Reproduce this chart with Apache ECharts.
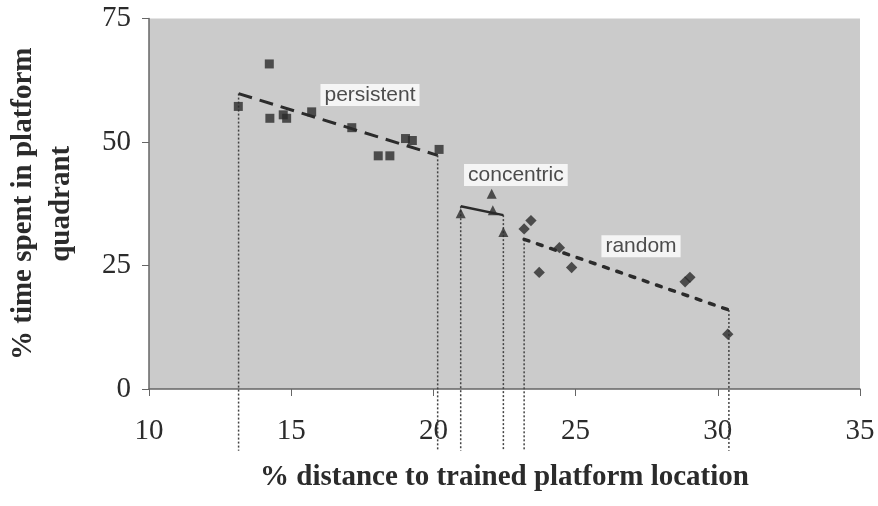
<!DOCTYPE html>
<html>
<head>
<meta charset="utf-8">
<script src="https://cdn.jsdelivr.net/npm/echarts@6/dist/echarts.min.js"></script>
<style>
  html, body { margin: 0; padding: 0; background: #fff; }
  #chart { width: 878px; height: 506px; }
</style>
</head>
<body>
<div id="chart"></div>
<script>
// data
const persistentX = [13.14, 14.23, 14.25, 14.72, 14.84, 15.72, 17.13, 18.06, 18.47, 19.02, 19.26, 20.2];
const persistentY = [57.2, 65.8, 54.8, 55.5, 54.8, 56.1, 52.9, 47.2, 47.2, 50.7, 50.3, 48.5];
const concentricX = [20.96, 22.05, 22.09, 22.46];
const concentricY = [35.6, 39.5, 36.2, 31.8];
const randomX = [23.19, 23.43, 23.72, 24.43, 24.86, 28.85, 29.02, 30.35];
const randomY = [32.4, 34.1, 23.6, 28.6, 24.6, 21.7, 22.6, 11.1];

// fitted lines (start, end)
const persistentFit = [[13.15, 59.8], [20.15, 47.3]];
const concentricFit = [[20.96, 37.0], [22.46, 35.2]];
const randomFit = [[23.19, 30.3], [30.39, 16.0]];

// bottom of the dotted drop lines (below the axis)
const dropBottom = -12.5;

const xTicks = [10, 15, 20, 25, 30, 35];
const yTicks = [0, 25, 50, 75];

const groupLabels = [
  { name: "persistent", value: [17.77, 59.5] },
  { name: "concentric", value: [22.9, 43.3] },
  { name: "random", value: [27.3, 28.9] },
];

const ink = "#2b2b2b";
const zip = (xs, ys) => xs.map((x, i) => [x, ys[i]]);

// dotted drop lines from every fit end down past the axis
const dropLines = [persistentFit, concentricFit, randomFit]
  .flatMap((fit) => fit)
  .map((p) => ({
    type: "line",
    data: [p, [p[0], dropBottom]],
    symbol: "none",
    clip: false,
    silent: true,
    lineStyle: { color: "#444", width: 1.5, type: [2, 2] },
    z: 1,
  }));

const chart = echarts.init(document.getElementById("chart"));
chart.setOption({
  animation: false,
  grid: {
    left: 149,
    right: 18,
    top: 18.5,
    bottom: 117,
    containLabel: false,
    outerBoundsMode: "none",
    show: true,
    backgroundColor: "#cbcbcb",
    borderWidth: 0,
  },
  xAxis: {
    type: "value",
    min: 10,
    max: 35,
    interval: 5,
    name: "% distance to trained platform location",
    nameLocation: "middle",
    nameGap: 74,
    nameTextStyle: {
      fontFamily: "Liberation Serif",
      fontWeight: "bold",
      fontSize: 29,
      color: ink,
    },
    axisLine: { lineStyle: { color: "#666", width: 1.5 } },
    axisTick: { show: true, length: 7, lineStyle: { color: "#666" } },
    axisLabel: {
      margin: 28,
      fontFamily: "Liberation Serif",
      fontSize: 29,
      color: ink,
      formatter: (v) => (xTicks.includes(v) ? String(v) : ""),
    },
    splitLine: { show: false },
  },
  yAxis: {
    type: "value",
    min: 0,
    max: 75,
    interval: 25,
    name: "% time spent in platform\nquadrant",
    nameLocation: "middle",
    nameRotate: 90,
    nameGap: 68,
    nameTextStyle: {
      fontFamily: "Liberation Serif",
      fontWeight: "bold",
      fontSize: 29,
      lineHeight: 38,
      color: ink,
    },
    axisLine: { show: true, lineStyle: { color: "#666", width: 1.5 } },
    axisTick: { show: true, length: 7, lineStyle: { color: "#666" } },
    axisLabel: {
      margin: 18,
      fontFamily: "Liberation Serif",
      fontSize: 29,
      color: ink,
      formatter: (v) => (yTicks.includes(v) ? String(v) : ""),
    },
    splitLine: { show: false },
  },
  series: [
    ...dropLines,
    {
      type: "line",
      data: persistentFit,
      symbol: "none",
      lineStyle: { color: ink, width: 3, type: [14, 8] },
      z: 2,
    },
    {
      type: "line",
      data: concentricFit,
      symbol: "none",
      lineStyle: { color: ink, width: 2.5 },
      z: 2,
    },
    {
      type: "line",
      data: randomFit,
      symbol: "none",
      lineStyle: { color: ink, width: 3.5, type: [5, 9], cap: "round" },
      z: 2,
    },
    {
      type: "scatter",
      data: zip(persistentX, persistentY),
      symbol: "rect",
      symbolSize: 9,
      itemStyle: { color: ink },
      z: 3,
    },
    {
      type: "scatter",
      data: zip(concentricX, concentricY),
      symbol: "triangle",
      symbolSize: 10,
      itemStyle: { color: ink },
      z: 3,
    },
    {
      type: "scatter",
      data: zip(randomX, randomY),
      symbol: "rect",
      symbolRotate: 45,
      symbolSize: 8,
      itemStyle: { color: ink },
      z: 3,
    },
    {
      type: "scatter",
      data: groupLabels,
      symbolSize: 1,
      silent: true,
      itemStyle: { color: "transparent" },
      label: {
        show: true,
        position: "inside",
        formatter: "{b}",
        fontFamily: "Liberation Sans",
        fontSize: 21,
        color: "#222",
        backgroundColor: "#fff",
        padding: [1, 4, 0, 4],
      },
      z: 4,
    },
  ],
});
</script>
</body>
</html>
